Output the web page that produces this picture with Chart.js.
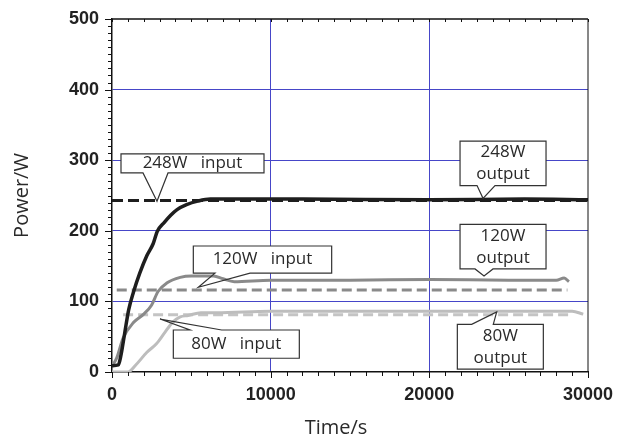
<!DOCTYPE html>
<html>
<head>
<meta charset="utf-8">
<script src="https://cdn.jsdelivr.net/npm/chart.js@4.4.1/dist/chart.umd.min.js"></script>
<style>
    html, body { margin: 0; padding: 0; background: #fff; }
    #wrap { position: relative; width: 617px; height: 443px; }
</style>
</head>
<body>
<div id="wrap"><canvas id="powerChart" width="617" height="443"></canvas></div>
<script>
// --- Data (time in s, power in W) ---
const out248Time  = [0, 400, 550, 800, 1050, 1350, 1750, 2200, 2600, 2850, 3300, 3700, 4100, 4700, 5400, 6200, 8000, 12000, 20000, 26000, 30000];
const out248Power = [9, 10, 22, 55, 88, 113, 140, 165, 182, 199, 212, 222, 230, 237, 242, 245, 245, 245, 244, 245, 244];

const out120Time  = [0, 300, 700, 1350, 2000, 2500, 2900, 3450, 4300, 5000, 6400, 7000, 7700, 10000, 15000, 20000, 25000, 28000, 28500, 28800];
const out120Power = [8, 20, 48, 70, 82, 95, 114, 126, 134, 136, 136, 132, 128, 130, 130, 131, 130, 130, 133, 128];

const out80Time  = [0, 1000, 1500, 2200, 2800, 3300, 3800, 4300, 4800, 5600, 6600, 10000, 15000, 20000, 25000, 29000, 29700];
const out80Power = [0, 0, 10, 28, 40, 55, 70, 78, 80, 84, 84, 86, 86, 86, 86, 86, 82];

const in248Time = [0, 30000];
const in248Power = [243, 243];
const in120Time = [300, 28700];
const in120Power = [116, 116];
const in80Time = [700, 28900];
const in80Power = [81, 81];

const xTickLabels = [0, 10000, 20000, 30000];
const yTickLabels = [0, 100, 200, 300, 400, 500];

const callouts = [
    { lines: ['248W   input'], box: [567, 9580, 309, 282], tip: [2836, 242], base: [1954, 3530] },
    { lines: ['248W', 'output'], box: [21935, 27355, 327, 264], tip: [23384, 246], base: [23006, 24140] },
    { lines: ['120W   input'], box: [5125, 13845, 178.5, 140], tip: [5440, 120], base: [6490, 8700] },
    { lines: ['120W', 'output'], box: [21935, 27355, 209, 146], tip: [23447, 136], base: [22880, 24014] },
    { lines: ['80W   input'], box: [3865, 11806, 59.5, 19.5], tip: [3025, 75], base: [4916, 6914] },
    { lines: ['80W', 'output'], box: [21765, 27185, 67.5, 4], tip: [24246, 85], base: [22670, 24030] },
];

const pts = (xs, ys) => xs.map((t, i) => ({ x: t, y: ys[i] }));

const gridBlue = '#4646c8';
const LEFT = 112, BOTTOM = 372;

// --- Frame, tick marks, callouts and axis titles ---
const framePlugin = {
    id: 'frame',
    afterDatasetsDraw(chart) {
        const { ctx, scales: { x, y } } = chart;
        ctx.save();
        callouts.forEach(c => {
            const x1 = x.getPixelForValue(c.box[0]), x2 = x.getPixelForValue(c.box[1]);
            const top = y.getPixelForValue(c.box[2]), bot = y.getPixelForValue(c.box[3]);
            const tx = x.getPixelForValue(c.tip[0]), ty = y.getPixelForValue(c.tip[1]);
            const b1 = x.getPixelForValue(c.base[0]), b2 = x.getPixelForValue(c.base[1]);
            ctx.fillStyle = '#fff';
            ctx.fillRect(x1, top, x2 - x1, bot - top);
            ctx.beginPath();
            if (ty > bot) {
                ctx.moveTo(x1, top); ctx.lineTo(x2, top); ctx.lineTo(x2, bot);
                ctx.lineTo(b2, bot); ctx.lineTo(tx, ty); ctx.lineTo(b1, bot); ctx.lineTo(x1, bot);
            } else {
                ctx.moveTo(x1, top); ctx.lineTo(b1, top); ctx.lineTo(tx, ty); ctx.lineTo(b2, top);
                ctx.lineTo(x2, top); ctx.lineTo(x2, bot); ctx.lineTo(x1, bot);
            }
            ctx.closePath();
            ctx.strokeStyle = '#333';
            ctx.lineWidth = 1.2;
            ctx.stroke();
            ctx.fillStyle = '#2a2a2a';
            ctx.font = '17px "Open Sans"';
            ctx.textAlign = 'center';
            ctx.textBaseline = 'middle';
            const cx = (x1 + x2) / 2, cy = (top + bot) / 2;
            if (c.lines.length === 1) {
                ctx.fillText(c.lines[0], cx, cy);
            } else {
                ctx.fillText(c.lines[0], cx, cy - 11);
                ctx.fillText(c.lines[1], cx, cy + 11);
            }
        });
        ctx.restore();
    },
    afterDraw(chart) {
        const { ctx, chartArea: a, scales: { x, y } } = chart;
        ctx.save();
        ctx.strokeStyle = '#111';
        const seg = (x0, y0, x1, y1) => { ctx.beginPath(); ctx.moveTo(x0, y0); ctx.lineTo(x1, y1); ctx.stroke(); };
        ctx.lineWidth = 1.5;
        seg(a.left, a.top, a.right, a.top);
        ctx.lineWidth = 1;
        seg(a.right, a.top, a.right, a.bottom);
        y.ticks.forEach(t => {
            const py = Math.round(y.getPixelForValue(t.value)) + 0.5;
            const len = t.value % 100 === 0 ? 7 : 4;
            seg(a.left - len, py, a.left, py);
        });
        x.ticks.forEach(t => {
            const px = Math.round(x.getPixelForValue(t.value)) + 0.5;
            const len = t.value % 10000 === 0 ? 6 : 4;
            seg(px, a.bottom, px, a.bottom + len);
            seg(px, a.top, px, a.top + 3);
        });
        // axis titles
        ctx.fillStyle = '#2a2a2a';
        ctx.font = '20px "Open Sans"';
        ctx.textAlign = 'center';
        ctx.textBaseline = 'middle';
        ctx.fillText('Time/s', 336, 428);
        ctx.translate(22, (a.top + a.bottom) / 2);
        ctx.rotate(-Math.PI / 2);
        ctx.fillText('Power/W', 0, 0);
        ctx.restore();
    }
};

const ctx = document.getElementById('powerChart').getContext('2d');
new Chart(ctx, {
    type: 'line',
    data: {
        datasets: [
            { label: '248W output', data: pts(out248Time, out248Power), borderColor: '#1e1e1e', borderWidth: 3.5, order: 1 },
            { label: '120W output', data: pts(out120Time, out120Power), borderColor: '#8a8a8a', borderWidth: 3, order: 3 },
            { label: '80W output', data: pts(out80Time, out80Power), borderColor: '#bdbdbd', borderWidth: 3, order: 5 },
            { label: '248W input', data: pts(in248Time, in248Power), borderColor: '#1e1e1e', borderWidth: 3, borderDash: [11, 5], order: 2 },
            { label: '120W input', data: pts(in120Time, in120Power), borderColor: '#8a8a8a', borderWidth: 3, borderDash: [10, 5], order: 4 },
            { label: '80W input', data: pts(in80Time, in80Power), borderColor: '#c4c4c4', borderWidth: 3, borderDash: [10, 5], order: 6 },
        ]
    },
    options: {
        responsive: false,
        animation: false,
        devicePixelRatio: 1,
        layout: { padding: { top: 19, right: 29, left: 0, bottom: 0 } },
        elements: { point: { radius: 0 }, line: { cubicInterpolationMode: 'monotone', fill: false } },
        plugins: { legend: { display: false }, tooltip: { enabled: false } },
        scales: {
            x: {
                type: 'linear', min: 0, max: 30000,
                afterFit: s => { s.height = 443 - BOTTOM; s.paddingLeft = 0; s.paddingRight = 0; },
                ticks: {
                    stepSize: 1000, maxTicksLimit: 100, autoSkip: false, maxRotation: 0, padding: 12,
                    color: '#222', font: { family: '"Liberation Sans"', size: 18, weight: 'bold' },
                    callback: v => xTickLabels.includes(v) ? String(v) : ''
                },
                grid: {
                    drawTicks: false,
                    color: c => (c.tick && (c.tick.value === 10000 || c.tick.value === 20000)) ? gridBlue : 'rgba(0,0,0,0)',
                    lineWidth: 1
                },
                border: { display: true, color: '#111', width: 1.5 }
            },
            y: {
                min: 0, max: 500,
                afterFit: s => { s.width = LEFT; s.paddingTop = 0; s.paddingBottom = 0; },
                ticks: {
                    stepSize: 10, maxTicksLimit: 100, autoSkip: false, padding: 13,
                    color: '#222', font: { family: '"Liberation Sans"', size: 18, weight: 'bold' },
                    callback: v => yTickLabels.includes(v) ? String(v) : ''
                },
                grid: {
                    drawTicks: false,
                    color: c => (c.tick && c.tick.value % 100 === 0 && c.tick.value > 0 && c.tick.value < 500) ? gridBlue : 'rgba(0,0,0,0)',
                    lineWidth: 1
                },
                border: { display: true, color: '#111', width: 1.5 }
            }
        }
    },
    plugins: [framePlugin]
});
</script>
</body>
</html>
